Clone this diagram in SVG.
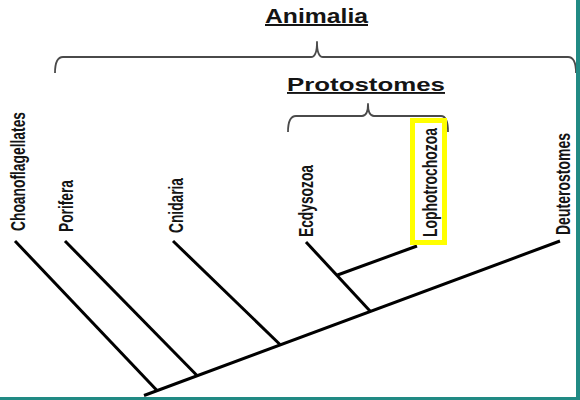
<svg xmlns="http://www.w3.org/2000/svg" width="580" height="400" viewBox="0 0 580 400">
  <style>
    .lbl { font-family: "Liberation Sans", Arial, sans-serif; font-weight: bold; font-size: 20px; fill: #141414; }
    .title { font-family: "Liberation Sans", Arial, sans-serif; font-weight: bold; fill: #141414; text-decoration: underline; }
    .edge { stroke: #000; stroke-width: 3; fill: none; }
    .brace { stroke: #4a4a4a; stroke-width: 1.8; fill: none; stroke-linejoin: round; }
    .frame { fill: #218a84; }
  </style>
  <rect x="0" y="0" width="580" height="400" fill="#ffffff"/>

  <g id="connectors">
    <line class="edge" x1="144" y1="395.5" x2="560" y2="241"/>
    <line class="edge" x1="15" y1="241" x2="157" y2="390.5"/>
    <line class="edge" x1="65" y1="241" x2="197" y2="375.5"/>
    <line class="edge" x1="173" y1="241" x2="280" y2="344.5"/>
    <line class="edge" x1="306" y1="242" x2="370" y2="311"/>
    <line class="edge" x1="337.5" y1="275" x2="417" y2="246"/>
  </g>

  <g id="brace-animalia">
    <path class="brace" d="M55,73 Q55,57 63,57 L311,57 Q317,57 317,42 Q317,57 323,57 L568,57 Q576,57 576,73"/>
  </g>
  <g id="brace-protostomes">
    <path class="brace" d="M288,132 Q288,116 296,116 L362,116 Q368,116 368,104 Q368,116 374,116 L441,116 Q448,116 448,132"/>
  </g>

  <g id="animalia">
    <text class="title" x="265" y="23" font-size="20" textLength="103" lengthAdjust="spacingAndGlyphs">Animalia</text>
  </g>
  <g id="protostomes">
    <text class="title" x="287" y="91" font-size="19" textLength="158" lengthAdjust="spacingAndGlyphs">Protostomes</text>
  </g>

  <g id="choanoflagellates">
    <text class="lbl" transform="translate(25,231) rotate(-90)" textLength="119" lengthAdjust="spacingAndGlyphs">Choanoflagellates</text>
  </g>
  <g id="porifera">
    <text class="lbl" transform="translate(72.5,232) rotate(-90)" textLength="52" lengthAdjust="spacingAndGlyphs">Porifera</text>
  </g>
  <g id="cnidaria">
    <text class="lbl" transform="translate(183,233) rotate(-90)" textLength="55" lengthAdjust="spacingAndGlyphs">Cnidaria</text>
  </g>
  <g id="ecdysozoa">
    <text class="lbl" transform="translate(313,237) rotate(-90)" textLength="72" lengthAdjust="spacingAndGlyphs">Ecdysozoa</text>
  </g>
  <g id="lophotrochozoa">
    <rect x="412.5" y="120.5" width="32" height="122" fill="none" stroke="#ffff00" stroke-width="5"/>
    <text class="lbl" transform="translate(436.5,237) rotate(-90)" textLength="109" lengthAdjust="spacingAndGlyphs">Lophotrochozoa</text>
  </g>
  <g id="deuterostomes">
    <text class="lbl" transform="translate(570,235) rotate(-90)" textLength="102" lengthAdjust="spacingAndGlyphs">Deuterostomes</text>
  </g>

  <rect class="frame" x="576" y="0" width="4" height="400"/>
  <rect class="frame" x="0" y="397" width="580" height="3"/>
</svg>
